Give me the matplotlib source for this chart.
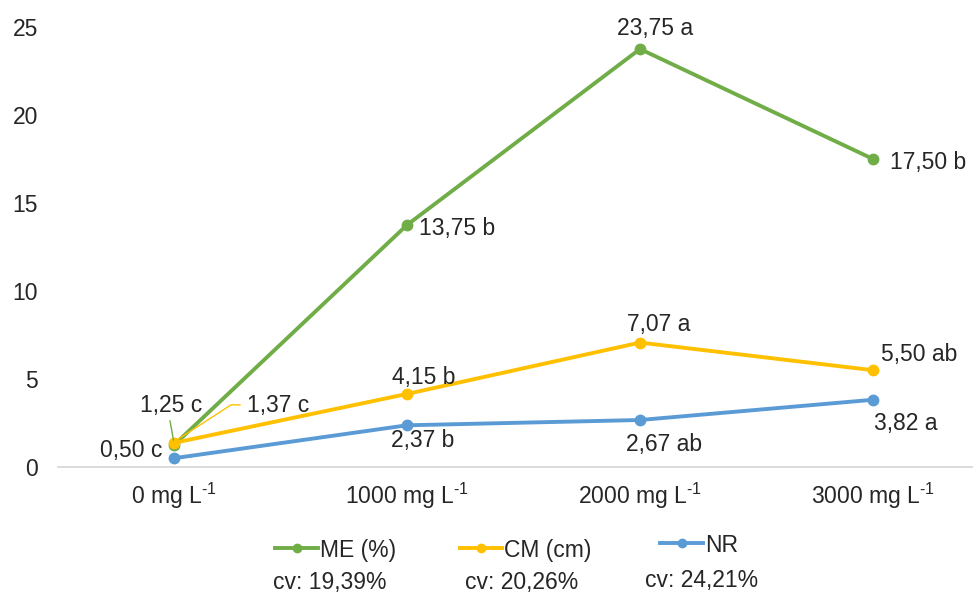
import matplotlib
matplotlib.use("Agg")
import matplotlib.pyplot as plt
from matplotlib.lines import Line2D
from matplotlib.transforms import IdentityTransform

# ---- data ----
categories = ["0 mg L$^{\\text{-1}}$", "1000 mg L$^{\\text{-1}}$",
              "2000 mg L$^{\\text{-1}}$", "3000 mg L$^{\\text{-1}}$"]
me_values = [1.25, 13.75, 23.75, 17.50]
cm_values = [1.37, 4.15, 7.07, 5.50]
nr_values = [0.50, 2.37, 2.67, 3.82]
me_labels = ["1,25 c", "13,75 b", "23,75 a", "17,50 b"]
cm_labels = ["1,37 c", "4,15 b", "7,07 a", "5,50 ab"]
nr_labels = ["0,50 c", "2,37 b", "2,67 ab", "3,82 a"]
series_names = ["ME (%)", "CM (cm)", "NR"]
cv_texts = ["cv: 19,39%", "cv: 20,26%", "cv: 24,21%"]
y_ticks = [0, 5, 10, 15, 20, 25]

GREEN = "#70AD47"
ORANGE = "#FFC000"
BLUE = "#5B9BD5"
TXT = "#262626"
FS = 16.5

plt.rcParams['font.family'] = ['Liberation Sans', 'DejaVu Sans']
plt.rcParams['mathtext.fontset'] = 'custom'
plt.rcParams['mathtext.rm'] = 'Liberation Sans'
plt.rcParams['mathtext.it'] = 'Liberation Sans:italic'
plt.rcParams['mathtext.bf'] = 'Liberation Sans:bold'
plt.rcParams['axes.unicode_minus'] = False

W, H = 973, 596
fig = plt.figure(figsize=(W / 100, H / 100), dpi=100)

def fx(px):
    return px / W

def fy(py):
    return 1 - py / H

# axes: left 57.5px, category spacing 233px, y0 at 467px, y25 at 27px
ax = fig.add_axes([fx(57.5), fy(467), 932 / W, 440 / H])
ax.set_xlim(-0.5, 3.5)
ax.set_ylim(0, 25)

x = list(range(len(categories)))
lw = 2.8
ms = 7.5
ax.plot(x, me_values, color=GREEN, lw=lw, marker="o", ms=ms, zorder=3, clip_on=False)
ax.plot(x, cm_values, color=ORANGE, lw=lw, marker="o", ms=ms, zorder=4, clip_on=False)
ax.plot(x, nr_values, color=BLUE, lw=lw, marker="o", ms=ms, zorder=3, clip_on=False)

for s in ["top", "right", "left"]:
    ax.spines[s].set_visible(False)
ax.spines["bottom"].set_color("#D9D9D9")
ax.spines["bottom"].set_linewidth(1.3)

ax.set_yticks(y_ticks)
ax.set_yticklabels([str(t) for t in y_ticks])
ax.set_xticks(x)
ax.set_xticklabels(categories)
ax.tick_params(axis="y", length=0, pad=14, labelsize=FS, labelcolor=TXT)
ax.tick_params(axis="x", length=0, pad=10, labelsize=FS, labelcolor=TXT)

# data label offsets (pixels) and alignment
me_off = [(-3, 42, "center"), (12, -1, "left"), (15, 23, "center"), (17, -1, "left")]
cm_off = [(73, 40, "left"), (17, 19, "center"), (19, 21, "center"), (46, 18, "center")]
nr_off = [(-12, 10, "right"), (16, -13, "center"), (24, -22, "center"), (33, -21, "center")]

for vals, labs, offs in [(me_values, me_labels, me_off),
                         (cm_values, cm_labels, cm_off),
                         (nr_values, nr_labels, nr_off)]:
    for i, (v, lab, (dx, dy, ha)) in enumerate(zip(vals, labs, offs)):
        ax.annotate(lab, xy=(i, v), xytext=(dx, dy), textcoords="offset pixels",
                    ha=ha, va="center_baseline", fontsize=FS, color=TXT, zorder=6)

# leader lines for first-category labels (pixel offsets from the data point)
p_me = ax.transData.transform((0, me_values[0]))
p_cm = ax.transData.transform((0, cm_values[0]))
fig.add_artist(Line2D([p_me[0] - 4, p_me[0] - 0.5], [p_me[1] + 24, p_me[1] + 5],
                     color=GREEN, lw=1.0, transform=IdentityTransform()))
fig.add_artist(Line2D([p_cm[0] + 3, p_cm[0] + 57, p_cm[0] + 66],
                     [p_cm[1] + 3, p_cm[1] + 38, p_cm[1] + 38],
                     color=ORANGE, lw=1.0, transform=IdentityTransform()))

# legend (manual)
colors = [GREEN, ORANGE, BLUE]
leg_line_x = [(275, 318), (460, 502), (660, 703)]
leg_y = [548, 548, 543]
cv_x = [273, 465, 645]
cv_y = [580, 580, 578]
for name, col, (x0, x1), yy, cx, cy, cvt in zip(series_names, colors, leg_line_x, leg_y,
                                                cv_x, cv_y, cv_texts):
    fig.add_artist(Line2D([fx(x0), fx(x1)], [fy(yy), fy(yy)], color=col, lw=lw))
    fig.add_artist(Line2D([fx((x0 + x1) / 2)], [fy(yy)], color=col, marker="o", ms=6, lw=0))
    fig.text(fx(x1 + 2), fy(yy), name, ha="left", va="center_baseline", fontsize=FS, color=TXT)
    fig.text(fx(cx), fy(cy), cvt, ha="left", va="center_baseline", fontsize=FS, color=TXT)

fig.savefig("out.png", dpi=100)
